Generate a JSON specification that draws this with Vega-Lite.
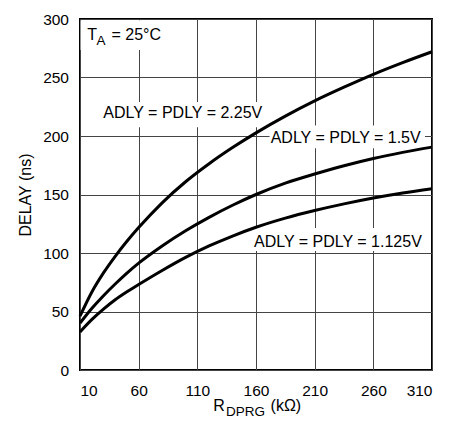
{
  "$schema": "https://vega.github.io/schema/vega-lite/v6.json",
  "autosize": "none",
  "width": 352,
  "height": 351,
  "padding": {"left": 80, "top": 19, "right": 31, "bottom": 58},
  "background": "white",
  "config": {
    "font": "Liberation Sans",
    "view": {"stroke": "black", "strokeWidth": 2},
    "axis": {
      "grid": true,
      "gridColor": "#444444",
      "gridWidth": 1,
      "gridOpacity": 1,
      "ticks": false,
      "domain": false,
      "labelFont": "Liberation Sans",
      "labelFontSize": 15.5,
      "labelColor": "black",
      "titleFont": "Liberation Sans",
      "titleFontSize": 16,
      "titleFontWeight": "normal",
      "titleColor": "black"
    }
  },
  "datasets": {
    "curves": [
      {"s": "2.25V", "r": 10, "d": 46}, {"s": "2.25V", "r": 20, "d": 66.5}, {"s": "2.25V", "r": 30, "d": 83},
      {"s": "2.25V", "r": 40, "d": 97.2}, {"s": "2.25V", "r": 50, "d": 110}, {"s": "2.25V", "r": 60, "d": 121.7},
      {"s": "2.25V", "r": 80, "d": 142.9}, {"s": "2.25V", "r": 100, "d": 160.9}, {"s": "2.25V", "r": 120, "d": 176.3},
      {"s": "2.25V", "r": 140, "d": 190.1}, {"s": "2.25V", "r": 160, "d": 202.7}, {"s": "2.25V", "r": 185, "d": 217},
      {"s": "2.25V", "r": 210, "d": 230}, {"s": "2.25V", "r": 235, "d": 241.7}, {"s": "2.25V", "r": 260, "d": 252.7},
      {"s": "2.25V", "r": 285, "d": 262.7}, {"s": "2.25V", "r": 310, "d": 272},
      {"s": "1.5V", "r": 10, "d": 40}, {"s": "1.5V", "r": 20, "d": 52.5}, {"s": "1.5V", "r": 30, "d": 63.5},
      {"s": "1.5V", "r": 40, "d": 73.5}, {"s": "1.5V", "r": 50, "d": 82.8}, {"s": "1.5V", "r": 60, "d": 91.3},
      {"s": "1.5V", "r": 80, "d": 106}, {"s": "1.5V", "r": 100, "d": 119}, {"s": "1.5V", "r": 120, "d": 130.5},
      {"s": "1.5V", "r": 140, "d": 140.8}, {"s": "1.5V", "r": 160, "d": 150}, {"s": "1.5V", "r": 185, "d": 159.7},
      {"s": "1.5V", "r": 210, "d": 167.5}, {"s": "1.5V", "r": 235, "d": 174.6}, {"s": "1.5V", "r": 260, "d": 180.8},
      {"s": "1.5V", "r": 285, "d": 186}, {"s": "1.5V", "r": 310, "d": 190.5},
      {"s": "1.125V", "r": 10, "d": 32.5}, {"s": "1.125V", "r": 20, "d": 43}, {"s": "1.125V", "r": 30, "d": 52},
      {"s": "1.125V", "r": 40, "d": 60}, {"s": "1.125V", "r": 50, "d": 66.8}, {"s": "1.125V", "r": 60, "d": 73},
      {"s": "1.125V", "r": 80, "d": 85}, {"s": "1.125V", "r": 100, "d": 96.2}, {"s": "1.125V", "r": 120, "d": 106},
      {"s": "1.125V", "r": 140, "d": 114.5}, {"s": "1.125V", "r": 160, "d": 122}, {"s": "1.125V", "r": 185, "d": 129.8},
      {"s": "1.125V", "r": 210, "d": 136.3}, {"s": "1.125V", "r": 235, "d": 142}, {"s": "1.125V", "r": 260, "d": 147},
      {"s": "1.125V", "r": 285, "d": 151.3}, {"s": "1.125V", "r": 310, "d": 155}
    ],
    "boxes": [
      {"r": 10.5, "r2": 82, "d": 273.5, "d2": 299},
      {"r": 27, "r2": 172, "d": 207.5, "d2": 229},
      {"r": 171.5, "r2": 304, "d": 189.5, "d2": 209},
      {"r": 156.5, "r2": 305, "d": 101.8, "d2": 121.3}
    ],
    "texts": [
      {"t": "T", "r": 16.2, "d": 281.9},
      {"t": "= 25°C", "r": 36.8, "d": 281.9},
      {"t": "ADLY = PDLY = 2.25V", "r": 29.9, "d": 215.1},
      {"t": "ADLY = PDLY = 1.5V", "r": 172.5, "d": 194.3},
      {"t": "ADLY = PDLY = 1.125V", "r": 158.3, "d": 105},
      {"t": "R", "r": 123.6, "d": -35.3},
      {"t": "(kΩ)", "r": 172.4, "d": -35.3}
    ],
    "subs": [
      {"t": "A", "r": 24.1, "d": 277.6},
      {"t": "DPRG", "r": 134.4, "d": -39.6}
    ]
  },
  "encoding": {
    "x": {
      "field": "r",
      "type": "quantitative",
      "scale": {"domain": [10, 310], "nice": false, "zero": false},
      "axis": {"values": [10, 60, 110, 160, 210, 260, 310], "labelPadding": 13, "title": null}
    },
    "y": {
      "field": "d",
      "type": "quantitative",
      "scale": {"domain": [0, 300], "nice": false, "zero": false},
      "axis": {"values": [0, 50, 100, 150, 200, 250, 300], "labelPadding": 11.5, "title": "DELAY (ns)", "titlePadding": 9}
    }
  },
  "layer": [
    {
      "data": {"name": "boxes"},
      "mark": {"type": "rect", "fill": "white", "stroke": null},
      "encoding": {"x2": {"field": "r2"}, "y2": {"field": "d2"}}
    },
    {
      "data": {"name": "curves"},
      "mark": {"type": "line", "color": "black", "strokeWidth": 3, "interpolate": "monotone"},
      "encoding": {"detail": {"field": "s"}}
    },
    {
      "data": {"name": "texts"},
      "mark": {"type": "text", "align": "left", "baseline": "alphabetic", "fontSize": 16, "color": "black", "font": "Liberation Sans"},
      "encoding": {"text": {"field": "t"}}
    },
    {
      "data": {"name": "subs"},
      "mark": {"type": "text", "align": "left", "baseline": "alphabetic", "fontSize": 13.5, "color": "black", "font": "Liberation Sans"},
      "encoding": {"text": {"field": "t"}}
    }
  ]
}
